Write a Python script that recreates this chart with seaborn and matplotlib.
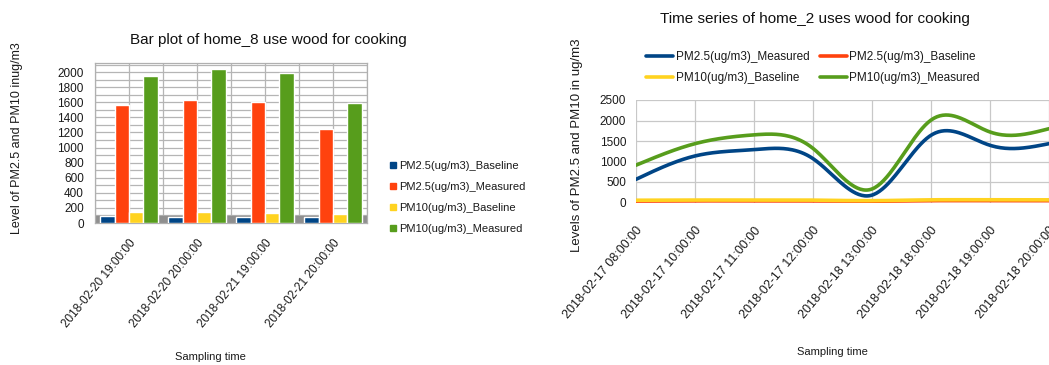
import numpy as np
import pandas as pd
import seaborn as sns
import matplotlib.pyplot as plt
from matplotlib.lines import Line2D
from matplotlib.ticker import MultipleLocator

# ---------------- data ----------------
bar_times = ["2018-02-20 19:00:00", "2018-02-20 20:00:00",
             "2018-02-21 19:00:00", "2018-02-21 20:00:00"]
bar_pm25_base = [88, 85, 80, 82]
bar_pm25_meas = [1558, 1634, 1598, 1250]
bar_pm10_base = [140, 140, 130, 122]
bar_pm10_meas = [1951, 2044, 1987, 1589]

line_times = ["2018-02-17 08:00:00", "2018-02-17 10:00:00", "2018-02-17 11:00:00",
              "2018-02-17 12:00:00", "2018-02-18 13:00:00", "2018-02-18 18:00:00",
              "2018-02-18 19:00:00", "2018-02-18 20:00:00"]
line_pm25_meas = [565, 1135, 1290, 1070, 180, 1640, 1395, 1435]
line_pm25_base = [35, 40, 40, 38, 30, 45, 45, 45]
line_pm10_base = [55, 60, 60, 58, 45, 65, 65, 65]
line_pm10_meas = [910, 1435, 1650, 1320, 330, 2010, 1720, 1800]

series_names = ["PM2.5(ug/m3)_Baseline", "PM2.5(ug/m3)_Measured",
                "PM10(ug/m3)_Baseline", "PM10(ug/m3)_Measured"]
C_BLUE, C_ORANGE, C_YELLOW, C_GREEN = "#004586", "#ff420e", "#ffd320", "#579d1c"
TXT = "#1a1a1a"

# ---------------- style ----------------
sns.set_theme(style="white")
plt.rcParams['font.family'] = ['Liberation Sans', 'DejaVu Sans']

W, H = 1049, 365
fig = plt.figure(figsize=(W / 100, H / 100), dpi=100)


def ax_at(l, t, r, b):
    return fig.add_axes([l / W, 1 - b / H, (r - l) / W, (b - t) / H])


# ---------------- left: bar chart ----------------
axL = ax_at(95, 63, 367, 223)
df_bar = pd.DataFrame({
    "time": np.repeat(bar_times, 4),
    "series": series_names * len(bar_times),
    "value": np.ravel(np.column_stack([bar_pm25_base, bar_pm25_meas,
                                       bar_pm10_base, bar_pm10_meas])),
})
sns.barplot(data=df_bar, x="time", y="value", hue="series", hue_order=series_names,
            palette=[C_BLUE, C_ORANGE, C_YELLOW, C_GREEN], width=0.85, saturation=1,
            legend=False, ax=axL, zorder=3)
axL.axhspan(0, 95, color="#8f8f8f", zorder=1)
axL.set_xlim(-0.5, 3.5)
axL.set_ylim(0, 2120)
axL.yaxis.set_major_locator(MultipleLocator(200))
axL.yaxis.set_minor_locator(MultipleLocator(100))
axL.set_xticks(range(4))
axL.set_xticks([-0.5, 0.5, 1.5, 2.5, 3.5], minor=True)
axL.grid(True, which="both", color="#b5b5b5", lw=0.9, zorder=0)
axL.set_axisbelow(True)
for s in axL.spines.values():
    s.set_color("#b0b0b0")
    s.set_linewidth(0.9)
axL.tick_params(axis="y", which="both", length=0, labelsize=8.5, pad=8, labelcolor=TXT)
axL.tick_params(axis="x", which="both", length=0, labelsize=8.5, pad=10, labelcolor=TXT)
axL.set_xticklabels(bar_times, rotation=51, ha="right", rotation_mode="anchor")
axL.set_xlabel("")
axL.set_ylabel("")
fig.text(268 / W, 1 - 40 / H, "Bar plot of home_8 use wood for cooking",
         ha="center", va="center", fontsize=11, color="#111111")
fig.text(17 / W, 1 - 138 / H, "Level of PM2.5 and PM10 inug/m3", rotation=90,
         ha="center", va="center", fontsize=9, color=TXT)
fig.text(210 / W, 1 - 357 / H, "Sampling time", ha="center", va="center",
         fontsize=8, color=TXT)
sq = [Line2D([], [], marker="s", ls="none", color=c, markersize=5)
      for c in [C_BLUE, C_ORANGE, C_YELLOW, C_GREEN]]
fig.legend(sq, series_names, loc="upper left", bbox_to_anchor=(387 / W, 1 - 161 / H),
           frameon=False, fontsize=8, handletextpad=0.1, labelspacing=1.0,
           borderaxespad=0, borderpad=0, handlelength=1.0, labelcolor=TXT)

# ---------------- right: smooth time series ----------------
axR = ax_at(636, 100, 1049, 202.5)


def natural_spline(y, n=40):
    y = np.asarray(y, float)
    k = len(y)
    A = np.zeros((k, k))
    r = np.zeros(k)
    A[0, 0] = A[-1, -1] = 1
    for i in range(1, k - 1):
        A[i, i - 1], A[i, i], A[i, i + 1] = 1, 4, 1
        r[i] = 6 * (y[i + 1] - 2 * y[i] + y[i - 1])
    M = np.linalg.solve(A, r)
    xs, ys = [], []
    for i in range(k - 1):
        t = np.linspace(0, 1, n, endpoint=(i == k - 2))
        s = (M[i] * (1 - t) ** 3 / 6 + M[i + 1] * t ** 3 / 6
             + (y[i] - M[i] / 6) * (1 - t) + (y[i + 1] - M[i + 1] / 6) * t)
        xs.append(i + t)
        ys.append(s)
    return np.concatenate(xs), np.concatenate(ys)


line_series = [("PM2.5(ug/m3)_Measured", line_pm25_meas, C_BLUE),
               ("PM2.5(ug/m3)_Baseline", line_pm25_base, C_ORANGE),
               ("PM10(ug/m3)_Baseline", line_pm10_base, C_YELLOW),
               ("PM10(ug/m3)_Measured", line_pm10_meas, C_GREEN)]
for name, vals, col in line_series:
    xs, ys = natural_spline(vals)
    sns.lineplot(x=xs, y=ys, color=col, lw=2.6, sort=False, ax=axR, zorder=3)

axR.set_xlim(0, 7)
axR.set_ylim(0, 2500)
axR.set_xticks(range(len(line_times)))
axR.set_xticklabels(line_times, rotation=50, ha="right", rotation_mode="anchor")
axR.yaxis.set_major_locator(MultipleLocator(500))
axR.grid(True, color="#c8c8c8", lw=0.9, zorder=0)
for s in axR.spines.values():
    s.set_visible(False)
axR.tick_params(axis="x", length=6, color="#c8c8c8", width=0.9, labelsize=9, pad=10,
                labelcolor=TXT)
axR.tick_params(axis="y", length=0, labelsize=8.5, pad=7, labelcolor=TXT)
fig.text(815 / W, 1 - 19 / H, "Time series of home_2 uses wood for cooking",
         ha="center", va="center", fontsize=11, color="#111111")
fig.text(577 / W, 1 - 145 / H, "Levels of PM2.5 and PM10 in ug/m3", rotation=90,
         ha="center", va="center", fontsize=9.5, color=TXT)
fig.text(832 / W, 1 - 352 / H, "Sampling time", ha="center", va="center",
         fontsize=8, color=TXT)
lh = {n: Line2D([], [], color=c, lw=2.6) for n, _, c in line_series}
order = ["PM2.5(ug/m3)_Measured", "PM10(ug/m3)_Baseline",
         "PM2.5(ug/m3)_Baseline", "PM10(ug/m3)_Measured"]
fig.legend([lh[n] for n in order], order, ncol=2, loc="upper left",
           bbox_to_anchor=(646 / W, 1 - 51 / H), frameon=False, fontsize=8.5,
           handlelength=2.3, handletextpad=0.2, columnspacing=0.9, labelspacing=0.75,
           borderaxespad=0, borderpad=0, labelcolor=TXT)

fig.savefig("out.png", dpi=100)
